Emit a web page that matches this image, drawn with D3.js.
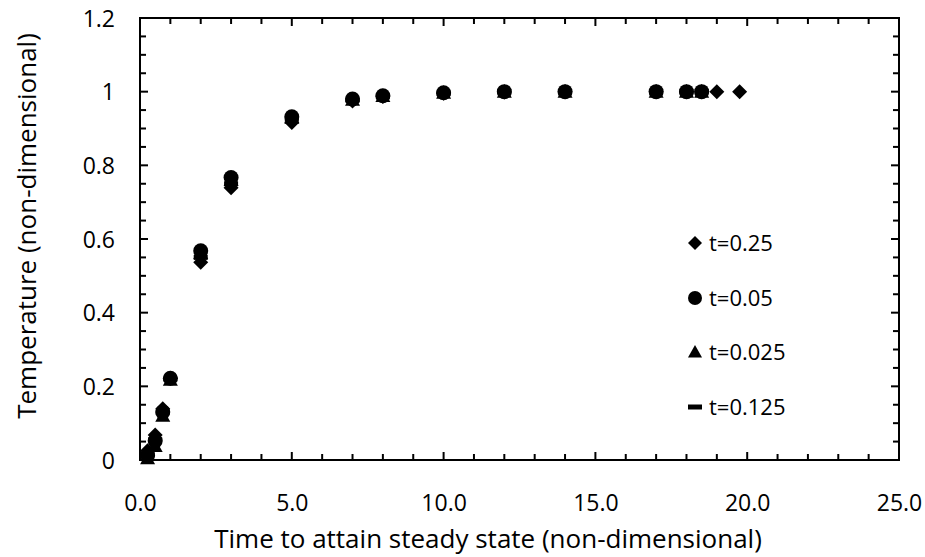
<!DOCTYPE html>
<html><head><meta charset="utf-8">
<script src="https://cdn.jsdelivr.net/npm/d3@7"></script>
<style>body{margin:0;background:#fff}svg{display:block}text{font-family:"Open Sans",Lato,sans-serif;fill:#000}</style>
</head><body><svg id="c" width="925" height="557"></svg>
<script>
const xTicks = [0, 5, 10, 15, 20, 25];
const yTicks = [0, 0.2, 0.4, 0.6, 0.8, 1, 1.2];
const seriesNames = ["t=0.25", "t=0.05", "t=0.025", "t=0.125"];
const xA = [0.25, 0.5, 0.75, 1, 2, 3, 5, 7, 8, 10, 12, 14, 17, 18, 18.5, 19, 19.75];
const yA = [0.025, 0.068, 0.139, 0.222, 0.537, 0.739, 0.916, 0.975, 0.987, 0.996, 0.999, 1, 1, 1, 1, 1, 1];
const xB = [0.25, 0.5, 0.75, 1, 2, 3, 5, 7, 8, 10, 12, 14, 17, 18, 18.5];
const yB = [0.012, 0.052, 0.13, 0.222, 0.568, 0.767, 0.932, 0.98, 0.989, 0.997, 1, 1, 1, 1, 1];
const xC = [0.25, 0.5, 0.75, 1, 2, 3, 5, 7, 8, 10, 12, 14, 17, 18, 18.5];
const yC = [0.005, 0.038, 0.12, 0.218, 0.562, 0.76, 0.929, 0.978, 0.988, 0.997, 1, 1, 1, 1, 1];
const xD = [0.25, 0.5, 0.75, 1, 2, 3, 5, 7, 8, 10, 12, 14, 17, 18, 18.5];
const yD = [0.015, 0.055, 0.13, 0.22, 0.55, 0.75, 0.925, 0.977, 0.988, 0.996, 1, 1, 1, 1, 1];

const L = 140, R = 899, T = 18, B = 460;
const x = d3.scaleLinear().domain([0, 25]).range([L, R]);
const y = d3.scaleLinear().domain([0, 1.2]).range([B, T]);
const svg = d3.select("#c");

// minor/major ticks on all four sides, pointing inward
const xMinor = d3.range(0, 25.001, 1);
const yMinor = d3.range(0, 1.2001, 0.05);
const g = svg.append("g").attr("stroke", "#000").attr("stroke-width", 2);
xMinor.forEach(v => {
  const major = Math.abs(v % 5) < 1e-6;
  const len = major ? 8 : 6;
  g.append("line").attr("x1", x(v)).attr("x2", x(v)).attr("y1", B).attr("y2", B - len);
  g.append("line").attr("x1", x(v)).attr("x2", x(v)).attr("y1", T).attr("y2", T + len);
});
yMinor.forEach(v => {
  const major = Math.abs((v / 0.2) - Math.round(v / 0.2)) < 1e-6;
  const len = major ? 8 : 6;
  g.append("line").attr("y1", y(v)).attr("y2", y(v)).attr("x1", L).attr("x2", L + len);
  g.append("line").attr("y1", y(v)).attr("y2", y(v)).attr("x1", R).attr("x2", R - len);
});
svg.append("rect").attr("x", L).attr("y", T).attr("width", R - L).attr("height", B - T)
  .attr("fill", "none").attr("stroke", "#000").attr("stroke-width", 2);

// tick labels via axes
const xAxis = d3.axisBottom(x).tickValues(xTicks).tickFormat(d3.format(".1f")).tickSize(0).tickPadding(0);
svg.append("g").attr("transform", `translate(0,${B})`).call(xAxis)
  .call(s => s.select(".domain").remove())
  .selectAll("text").attr("font-size", 23).attr("font-family", null).attr("y", 43).attr("dy", "0.36em");
const yAxis = d3.axisLeft(y).tickValues(yTicks).tickFormat(d => String(+d.toFixed(1))).tickSize(0).tickPadding(25);
svg.append("g").attr("transform", `translate(${L},0)`).call(yAxis)
  .call(s => s.select(".domain").remove())
  .selectAll("text").attr("font-size", 23).attr("font-family", null).attr("dy", "0.36em");

// axis titles
svg.append("text").attr("x", 488).attr("y", 548).attr("text-anchor", "middle")
  .attr("font-size", 26).text("Time to attain steady state (non-dimensional)");
svg.append("text").attr("transform", `translate(36,226) rotate(-90)`).attr("text-anchor", "middle")
  .attr("font-size", 26).text("Temperature (non-dimensional)");

const shapes = {
  diamond: s => `M0,${-s}L${s},0L0,${s}L${-s},0Z`,
  circle: s => d3.symbol(d3.symbolCircle, Math.PI * s * s)(),
  triangle: s => `M0,${-s}L${s},${s * 0.8}L${-s},${s * 0.8}Z`,
  dash: s => `M${-s},-2.5H${s}V2.5H${-s}Z`
};
const series = [
  {name: seriesNames[0], xs: xA, ys: yA, shape: "diamond", size: 7.5},
  {name: seriesNames[1], xs: xB, ys: yB, shape: "circle", size: 7.5},
  {name: seriesNames[2], xs: xC, ys: yC, shape: "triangle", size: 7.5},
  {name: seriesNames[3], xs: xD, ys: yD, shape: "dash", size: 7}
];
series.forEach(s => {
  svg.append("g").selectAll("path").data(s.xs.map((v, i) => [v, s.ys[i]])).join("path")
    .attr("transform", d => `translate(${x(d[0])},${y(d[1])})`)
    .attr("d", shapes[s.shape](s.size)).attr("fill", "#000");
});

// legend
const legY = [243, 298, 352, 407];
series.forEach((s, i) => {
  svg.append("path").attr("transform", `translate(695,${legY[i]})`).attr("d", shapes[s.shape](7)).attr("fill", "#000");
  svg.append("text").attr("x", 709).attr("y", legY[i]).attr("dy", "0.36em").attr("font-size", 22).text(s.name);
});
</script></body></html>
